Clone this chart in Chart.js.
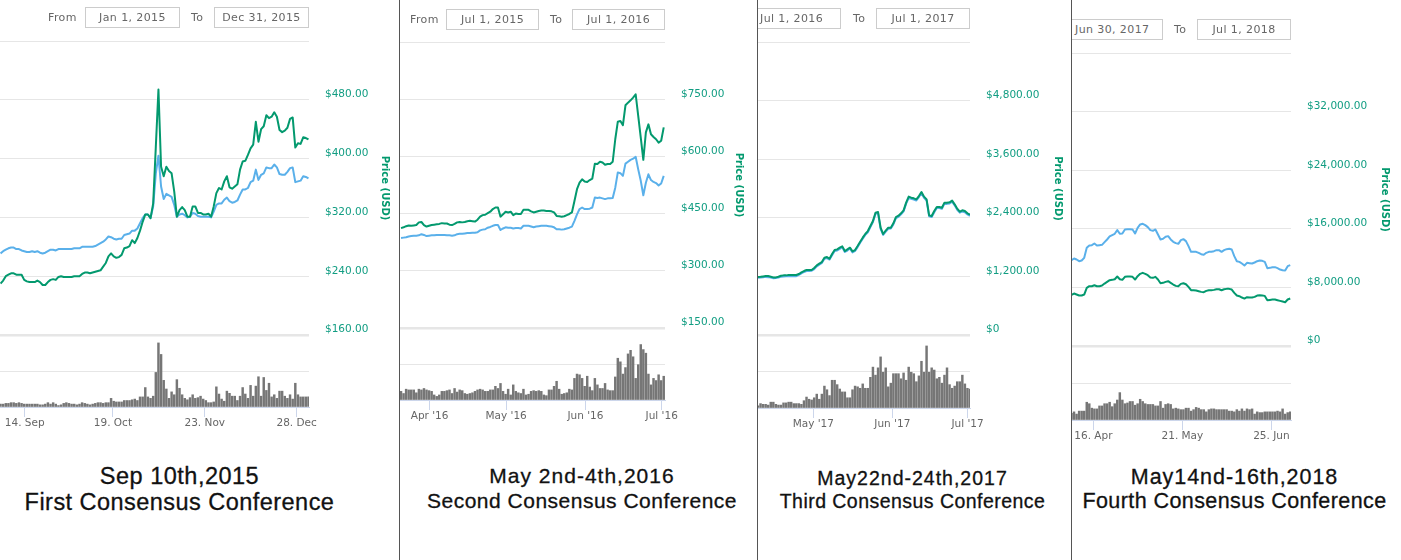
<!DOCTYPE html>
<html lang="en">
<head>
<meta charset="UTF-8">
<title>Bitcoin price around the Consensus conferences</title>
<script src="https://cdn.jsdelivr.net/npm/chart.js@4.4.2/dist/chart.umd.min.js"></script>
<style>
    html, body { margin: 0; padding: 0; background: #fff; }
    body { position: relative; width: 1401px; height: 560px; overflow: hidden; font-family: "DejaVu Sans", sans-serif; }
    .sep { position: absolute; top: 0; width: 1px; height: 560px; background: #555; }
    .panel { position: absolute; top: 0; }
    .lbl { position: absolute; font-size: 11px; line-height: 21px; color: #666; letter-spacing: 0.4px; white-space: nowrap; }
    .box { position: absolute; height: 19px; border: 1px solid #ccc; font-size: 11px; line-height: 19px; color: #666; text-align: center; letter-spacing: 0.4px; white-space: nowrap; overflow: hidden; box-sizing: content-box; background: #fff; }
    .cap { position: absolute; font-family: "Liberation Sans", Arial, sans-serif; color: #111; text-align: center; white-space: nowrap; -webkit-text-stroke: 0.3px #111; transform: translateX(-50%); }
</style>
</head>
<body>
<div class="sep" style="left:399px"></div>
<div class="sep" style="left:757px"></div>
<div class="sep" style="left:1071px"></div>

<div class="panel" style="left:0;width:391px;height:440px"><canvas id="chart1"></canvas></div>
<div class="panel" style="left:400px;width:345px;height:440px"><canvas id="chart2"></canvas></div>
<div class="panel" style="left:758px;width:306px;height:440px"><canvas id="chart3"></canvas></div>
<div class="panel" style="left:1072px;width:319px;height:450px"><canvas id="chart4"></canvas></div>

<span class="lbl" style="left:48px;top:7px">From</span>
<div class="box" style="left:85px;top:7px;width:93px">Jan 1, 2015</div>
<span class="lbl" style="left:191px;top:7px">To</span>
<div class="box" style="left:214px;top:7px;width:93px">Dec 31, 2015</div>

<span class="lbl" style="left:410px;top:9px">From</span>
<div class="box" style="left:446px;top:9px;width:91px">Jul 1, 2015</div>
<span class="lbl" style="left:550px;top:9px">To</span>
<div class="box" style="left:572px;top:9px;width:91px">Jul 1, 2016</div>

<div class="box" style="left:758px;top:8px;width:82px;border-left:none;text-align:left;text-indent:2px">Jul 1, 2016</div>
<span class="lbl" style="left:853px;top:8px">To</span>
<div class="box" style="left:876px;top:8px;width:92px">Jul 1, 2017</div>

<div class="box" style="left:1072px;top:19px;width:90px;border-left:none;text-align:left;text-indent:3px">Jun 30, 2017</div>
<span class="lbl" style="left:1174px;top:19px">To</span>
<div class="box" style="left:1197px;top:19px;width:92px">Jul 1, 2018</div>

<div class="cap" style="left:179.5px;top:463px;font-size:23.5px;letter-spacing:.5px">Sep 10th,2015</div>
<div class="cap" style="left:179.5px;top:489px;font-size:23.5px;letter-spacing:.46px">First Consensus Conference</div>
<div class="cap" style="left:582px;top:464px;font-size:21px;letter-spacing:1px">May 2nd-4th,2016</div>
<div class="cap" style="left:582px;top:489px;font-size:21px;letter-spacing:.5px">Second Consensus Conference</div>
<div class="cap" style="left:912.5px;top:467px;font-size:19.5px;letter-spacing:1px">May22nd-24th,2017</div>
<div class="cap" style="left:912.5px;top:490px;font-size:19.5px;letter-spacing:.46px">Third Consensus Conference</div>
<div class="cap" style="left:1234.5px;top:465px;font-size:21.5px;letter-spacing:.95px">May14nd-16th,2018</div>
<div class="cap" style="left:1234.5px;top:489px;font-size:21.5px;letter-spacing:.42px">Fourth Consensus Conference</div>

<script>
// --- 2015 panel ---
const tickPos1 = [9.2, 42.7, 77.6, 112.5];
const tickText1 = ['14. Sep', '19. Oct', '23. Nov', '28. Dec'];
const green1 = [
    230, 234, 240, 242, 244, 244, 242, 242, 242, 235,
    233, 232, 232, 232, 234, 232, 228, 228, 232, 235,
    236, 235, 239, 240, 239, 239, 239, 239, 240, 240,
    240, 243, 245, 245, 244, 245, 246, 247, 248, 253,
    258, 267, 271, 267, 265, 266, 269, 278, 279, 281,
    289, 285, 292, 302, 314, 324, 324, 319, 339, 416,
    494, 389, 376, 389, 383, 380, 355, 321, 330, 334,
    330, 321, 321, 335, 335, 326, 326, 324, 324, 325,
    321, 335, 353, 360, 358, 369, 376, 361, 359, 362,
    365, 385, 396, 397, 405, 414, 419, 450, 423, 440,
    444, 459, 455, 457, 463, 457, 439, 436, 438, 442,
    454, 456, 415, 421, 420, 429, 428, 426
];
const blue1 = [
    271, 274, 276, 278, 279, 279, 277, 277, 275, 274,
    273, 273, 274, 273, 274, 272, 271, 272, 274, 276,
    276, 275, 277, 277, 277, 277, 277, 277, 278, 278,
    278, 280, 280, 280, 280, 280, 281, 283, 285, 287,
    290, 294, 293, 291, 290, 291, 291, 296, 297, 298,
    302, 302, 305, 312, 319, 324, 324, 319, 335, 380,
    404, 362, 345, 352, 350, 348, 337, 321, 324, 325,
    323, 320, 321, 326, 325, 322, 321, 321, 321, 321,
    320, 328, 337, 339, 339, 344, 347, 342, 340, 341,
    343, 351, 358, 358, 360, 368, 370, 385, 371, 378,
    380, 388, 387, 387, 392, 388, 379, 378, 378, 382,
    387, 388, 368, 369, 370, 376, 375, 373
];
const volume1 = [
    4, 4, 5, 5, 6, 6, 5, 6, 5, 4,
    4, 4, 4, 4, 4, 3, 3, 4, 6, 4,
    6, 4, 2, 3, 5, 6, 5, 4, 4, 3,
    4, 6, 5, 4, 3, 4, 5, 6, 6, 5,
    6, 6, 12, 8, 7, 7, 7, 9, 9, 9,
    10, 11, 9, 14, 14, 27, 14, 12, 15, 48,
    89, 73, 37, 25, 12, 21, 17, 38, 26, 17,
    12, 10, 13, 17, 12, 13, 15, 11, 9, 6,
    6, 7, 28, 18, 11, 8, 22, 19, 15, 15,
    9, 15, 27, 18, 12, 30, 15, 29, 42, 15,
    41, 23, 33, 14, 17, 12, 22, 22, 15, 12,
    17, 11, 33, 17, 14, 14, 14, 14
];

// --- 2016 panel ---
const tickPos2 = [11.2, 41.2, 72.3, 102.2];
const tickText2 = ["Apr '16", "May '16", "Jun '16", "Jul '16"];
const green2 = [
    412, 414, 417, 419, 418, 419, 420, 427, 428, 420,
    416, 418, 420, 421, 422, 423, 425, 424, 424, 421,
    420, 423, 427, 428, 427, 428, 430, 431, 430, 429,
    434, 442, 446, 447, 451, 455, 462, 466, 466, 442,
    448, 455, 453, 455, 446, 450, 449, 449, 460, 460,
    460, 456, 453, 455, 457, 458, 458, 457, 457, 456,
    453, 444, 443, 442, 443, 446, 449, 453, 483, 514,
    531, 540, 534, 533, 538, 542, 581, 580, 586, 584,
    578, 580, 580, 586, 645, 691, 693, 682, 734, 741,
    747, 754, 763, 706, 649, 591, 663, 684, 658, 651,
    645, 636, 641, 676
];
const blue2 = [
    386, 387, 388, 390, 391, 392, 392, 393, 396, 394,
    391, 392, 393, 393, 394, 394, 394, 394, 393, 393,
    392, 393, 396, 397, 397, 398, 399, 399, 400, 400,
    401, 406, 408, 409, 413, 415, 418, 420, 420, 407,
    411, 414, 413, 413, 411, 412, 412, 411, 418, 418,
    418, 416, 414, 416, 417, 418, 418, 418, 417, 416,
    414, 409, 409, 408, 409, 411, 413, 416, 431, 448,
    462, 466, 462, 462, 463, 466, 492, 491, 492, 490,
    488, 490, 490, 491, 518, 558, 556, 549, 581, 586,
    591, 594, 599, 566, 536, 498, 531, 553, 538, 533,
    530, 524, 529, 549
];
const volume2 = [
    12, 9, 15, 14, 14, 14, 10, 15, 14, 16,
    14, 13, 12, 7, 5, 7, 12, 12, 13, 14,
    9, 16, 11, 14, 13, 9, 8, 9, 10, 12,
    14, 15, 14, 12, 12, 14, 14, 19, 16, 23,
    12, 8, 15, 7, 21, 12, 10, 9, 15, 7,
    8, 12, 13, 12, 13, 12, 7, 6, 14, 14,
    19, 26, 15, 8, 9, 10, 15, 14, 30, 36,
    35, 30, 19, 33, 18, 13, 30, 21, 16, 16,
    23, 14, 13, 13, 32, 58, 53, 36, 45, 64,
    69, 60, 30, 49, 77, 70, 65, 36, 21, 30,
    27, 35, 27, 33
];

// --- 2017 panel ---
const tickPos3 = [21.65, 52.6, 82.05];
const tickText3 = ["May '17", "Jun '17", "Jul '17"];
const green3 = [
    1190, 1193, 1200, 1207, 1207, 1193, 1180, 1180, 1193, 1214,
    1221, 1221, 1228, 1228, 1228, 1228, 1248, 1282, 1310, 1330,
    1330, 1330, 1371, 1426, 1460, 1494, 1583, 1596, 1562, 1658,
    1740, 1754, 1788, 1815, 1719, 1754, 1788, 1713, 1740, 1822,
    1911, 1993, 2068, 2129, 2232, 2334, 2505, 2518, 2197, 2068,
    2136, 2197, 2197, 2286, 2416, 2443, 2491, 2553, 2710, 2833,
    2812, 2799, 2778, 2846, 2928, 2833, 2778, 2450, 2436, 2539,
    2621, 2621, 2607, 2710, 2710, 2717, 2751, 2676, 2587, 2525,
    2553, 2539, 2491, 2464
];
const blue3 = [
    1170, 1175, 1180, 1190, 1185, 1175, 1160, 1165, 1175, 1195,
    1200, 1205, 1210, 1205, 1210, 1205, 1230, 1260, 1290, 1310,
    1310, 1315, 1350, 1405, 1440, 1475, 1560, 1575, 1545, 1635,
    1720, 1730, 1765, 1795, 1700, 1730, 1770, 1690, 1720, 1800,
    1890, 1970, 2050, 2105, 2210, 2315, 2480, 2495, 2175, 2050,
    2115, 2175, 2180, 2265, 2395, 2420, 2470, 2530, 2690, 2810,
    2790, 2775, 2755, 2825, 2905, 2810, 2755, 2430, 2415, 2515,
    2600, 2600, 2585, 2690, 2685, 2695, 2730, 2655, 2565, 2505,
    2530, 2515, 2470, 2440
];
const volume3 = [
    3, 6, 5, 5, 4, 8, 8, 5, 4, 4,
    7, 7, 8, 8, 6, 6, 6, 5, 10, 15,
    12, 11, 14, 19, 12, 19, 30, 25, 17, 38,
    38, 32, 26, 22, 22, 14, 14, 25, 30, 29,
    27, 33, 27, 27, 42, 56, 45, 55, 70, 49,
    55, 29, 34, 47, 47, 47, 40, 48, 38, 56,
    49, 47, 36, 44, 64, 49, 85, 49, 55, 52,
    40, 42, 34, 45, 55, 32, 27, 30, 36, 36,
    45, 33, 27, 26
];

// --- 2018 panel ---
const tickPos4 = [8.6, 43.6, 78.6];
const tickText4 = ['16. Apr', '21. May', '25. Jun'];
const green4 = [
    6978, 7161, 7024, 6887, 6887, 7024, 7935, 8163, 8163, 8300,
    8163, 8163, 8254, 8527, 8755, 8983, 9029, 9120, 9484, 9120,
    9029, 9439, 9484, 9484, 9439, 9074, 9530, 9849, 9985, 9849,
    9666, 9348, 9302, 9439, 9074, 8573, 8619, 8755, 8846, 8619,
    8391, 8209, 8163, 8482, 8573, 8436, 8072, 7616, 7616, 7571,
    7480, 7388, 7343, 7525, 7616, 7616, 7662, 7753, 7753, 7616,
    7753, 7799, 7799, 7707, 7252, 6887, 6796, 6614, 6477, 6659,
    6614, 6614, 6705, 6887, 6933, 6887, 6842, 6249, 6295, 6341,
    6341, 6249, 6158, 6067, 5976, 6341, 6477
];
const blue4 = [
    11717, 11945, 11808, 11580, 11672, 12036, 13403, 13722, 13768, 13995,
    13722, 13768, 13813, 14178, 14542, 14952, 15134, 15317, 15818, 15317,
    15362, 15909, 15954, 15954, 15909, 15362, 16137, 16593, 16684, 16502,
    16228, 15818, 15726, 15909, 15226, 14542, 14633, 14906, 14997, 14542,
    14224, 14041, 13950, 14451, 14588, 14314, 13630, 12856, 12856, 12856,
    12719, 12537, 12446, 12719, 12856, 12856, 12947, 13084, 13084, 12856,
    13084, 13220, 13266, 13175, 12264, 11580, 11489, 11261, 10988, 11352,
    11307, 11261, 11398, 11580, 11672, 11626, 11489, 10623, 10669, 10760,
    10760, 10623, 10441, 10350, 10304, 10897, 11034
];
const volume4 = [
    9, 11, 8, 12, 12, 12, 24, 22, 16, 15,
    15, 19, 19, 22, 22, 24, 18, 22, 27, 37,
    27, 22, 23, 25, 25, 20, 22, 28, 25, 22,
    21, 21, 21, 19, 19, 25, 16, 21, 22, 21,
    15, 16, 15, 14, 14, 16, 16, 12, 14, 17,
    16, 14, 14, 11, 14, 15, 15, 14, 14, 14,
    14, 14, 12, 12, 11, 14, 12, 15, 12, 15,
    14, 15, 8, 11, 10, 10, 11, 11, 11, 11,
    11, 12, 11, 15, 8, 10, 11
];

// price axis ranges as shown on the right of each panel
const axis1 = { min: 160, max: 560, step: 80 };
const axis2 = { min: 150, max: 900, step: 150 };
const axis3 = { min: 0, max: 6000, step: 1200 };
const axis4 = { min: 0, max: 40000, step: 8000 };

const GREEN = '#03996e';
const BLUE = '#5ab0ea';
const GRID = '#e6e6e6';
const AXIS_BLUE = '#ccd6eb';
const LABEL_GREEN = '#119d82';

function money(v) {
    if (v === 0) return '$0';
    return '$' + v.toLocaleString('en-US', { minimumFractionDigits: 2, maximumFractionDigits: 2 });
}

function toPoints(values) {
    return values.map((y, i) => ({ x: i, y: y }));
}

// layout: top/priceBottom/bottom of the plot in px, xMin/xMax in days, titleOffset
function drawPanel(id, green, blue, volume, axis, tickPos, tickText, layout) {
    const ctx = document.getElementById(id).getContext('2d');
    new Chart(ctx, {
        type: 'bar',
        data: {
            datasets: [
                { type: 'line', label: 'Price (USD)', data: toPoints(green), borderColor: GREEN, borderWidth: 2, pointRadius: 0, tension: 0, yAxisID: 'price', order: 1, borderJoinStyle: 'round' },
                { type: 'line', label: 'Market', data: toPoints(blue), borderColor: BLUE, borderWidth: 2, pointRadius: 0, tension: 0, yAxisID: 'price', order: 2, borderJoinStyle: 'round' },
                { type: 'bar', label: 'Volume', data: toPoints(volume), backgroundColor: '#767676', barThickness: 1.8, yAxisID: 'vol', order: 3 }
            ]
        },
        options: {
            responsive: true,
            maintainAspectRatio: false,
            animation: false,
            layout: { padding: { top: layout.top, left: 0, right: 0, bottom: 0 } },
            plugins: { legend: { display: false }, tooltip: { enabled: false } },
            scales: {
                x: {
                    type: 'linear',
                    offset: false,
                    min: layout.xMin,
                    max: layout.xMax,
                    afterBuildTicks: scale => { scale.ticks = tickPos.map(v => ({ value: v })); },
                    afterFit: scale => { scale.height = layout.axisHeight; },
                    grid: { offset: false, drawOnChartArea: false, color: AXIS_BLUE, tickLength: 10 },
                    border: { color: AXIS_BLUE },
                    ticks: {
                        autoSkip: false,
                        maxRotation: 0,
                        padding: 0,
                        color: '#666',
                        font: { family: 'DejaVu Sans', size: 10.5 },
                        callback: (v, i) => tickText[i]
                    }
                },
                price: {
                    type: 'linear',
                    position: 'right',
                    stack: 'right',
                    stackWeight: layout.priceBottom - layout.top,
                    min: axis.min,
                    max: axis.max,
                    afterFit: scale => { scale.width = layout.titleOffset + 8; },
                    grid: {
                        color: GRID,
                        drawTicks: false,
                        lineWidth: c => c.tick.value === axis.min ? 2.5 : 1
                    },
                    border: { display: false },
                    title: { display: true, text: 'Price (USD)', color: GREEN, padding: 0, font: { family: 'DejaVu Sans', size: 10, weight: 'bold' } },
                    ticks: {
                        stepSize: axis.step,
                        padding: 16,
                        color: LABEL_GREEN,
                        font: { family: 'DejaVu Sans', size: 10.5, lineHeight: 1 },
                        // empty second line lifts the label above its grid line
                        callback: v => v === axis.max ? '' : [money(v), '']
                    }
                },
                vol: {
                    type: 'linear',
                    position: 'right',
                    stack: 'right',
                    stackWeight: layout.bottom - layout.priceBottom,
                    min: 0,
                    max: 100,
                    afterFit: scale => { scale.width = layout.titleOffset + 8; },
                    grid: {
                        drawTicks: false,
                        color: c => c.tick.value === 0 ? 'rgba(0,0,0,0)' : GRID
                    },
                    border: { display: false },
                    ticks: { display: false, stepSize: 50 }
                }
            }
        }
    });
}

drawPanel('chart1', green1, blue1, volume1, axis1, tickPos1, tickText1,
    { top: 41, priceBottom: 335, bottom: 407, axisHeight: 33, xMin: -0.2, xMax: 117.2, titleOffset: 74 });
drawPanel('chart2', green2, blue2, volume2, axis2, tickPos2, tickText2,
    { top: 42, priceBottom: 328, bottom: 400, axisHeight: 40, xMin: -0.4, xMax: 103.5, titleOffset: 72 });
drawPanel('chart3', green3, blue3, volume3, axis3, tickPos3, tickText3,
    { top: 42, priceBottom: 335, bottom: 408, axisHeight: 32, xMin: 0, xMax: 83, titleOffset: 86 });
drawPanel('chart4', green4, blue4, volume4, axis4, tickPos4, tickText4,
    { top: 53, priceBottom: 346, bottom: 420, axisHeight: 30, xMin: 0.2, xMax: 86.3, titleOffset: 92 });
</script>
</body>
</html>
